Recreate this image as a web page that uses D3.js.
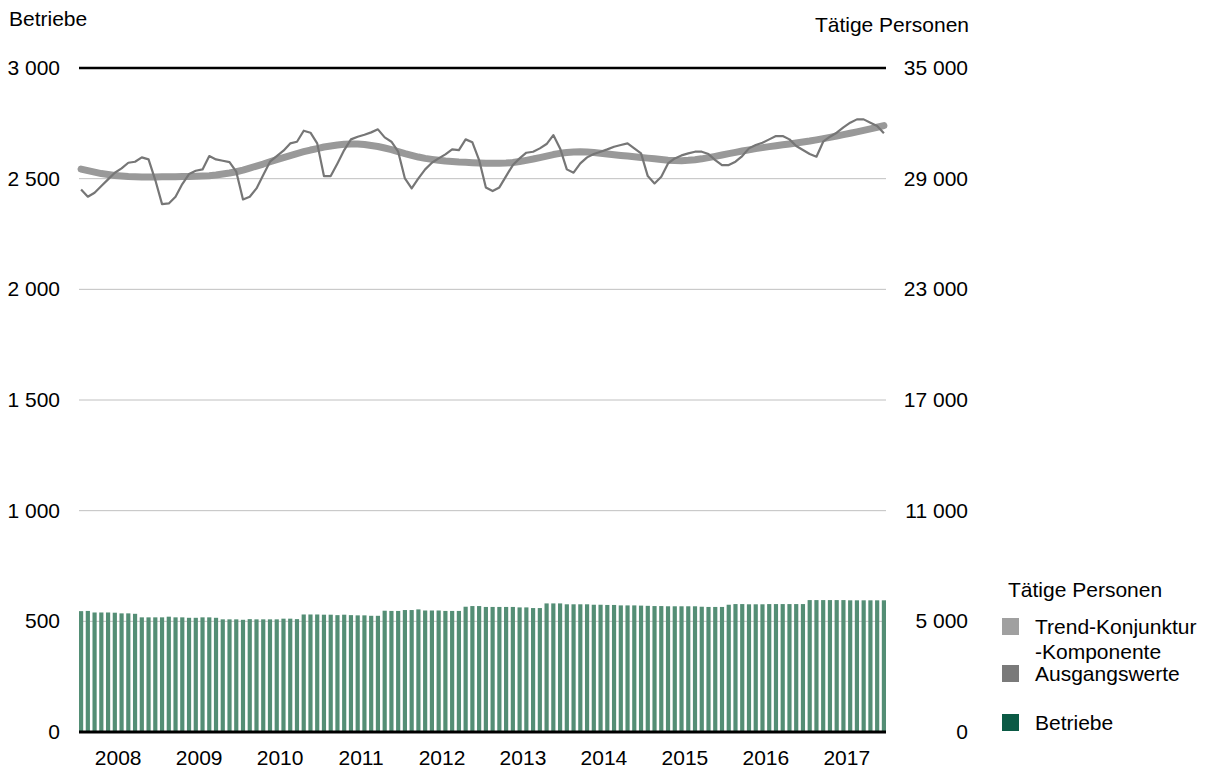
<!DOCTYPE html>
<html>
<head>
<meta charset="utf-8">
<script src="https://cdn.jsdelivr.net/npm/d3@7"></script>
<style>
  body { margin: 0; background: #fff; }
  text { font-family: "Liberation Sans", Arial, sans-serif; fill: #000; }
</style>
</head>
<body>
<script>
var jahre = ["2008", "2009", "2010", "2011", "2012", "2013", "2014", "2015", "2016", "2017"];

// Betriebe, monatlich Jan 2008 - Dez 2017
var betriebe = [
    546, 547, 540, 540, 540, 539, 536, 536, 534, 518, 518, 518,
    518, 521, 518, 518, 516, 516, 518, 518, 516, 509, 509, 509,
    507, 510, 509, 509, 509, 509, 512, 512, 510, 531, 531, 531,
    530, 530, 528, 530, 528, 527, 527, 525, 525, 548, 547, 547,
    551, 551, 554, 549, 549, 549, 547, 547, 547, 566, 569, 569,
    565, 565, 565, 565, 565, 563, 563, 560, 560, 581, 581, 581,
    577, 577, 577, 577, 575, 575, 574, 574, 572, 572, 572, 571,
    570, 569, 569, 568, 568, 568, 568, 568, 566, 565, 565, 565,
    575, 578, 578, 577, 577, 577, 578, 578, 578, 578, 578, 578,
    596, 596, 596, 596, 596, 596, 595, 595, 595, 595, 595, 595
];

// Tätige Personen - Ausgangswerte
var ausgangswerte = [
    28418, 28020, 28237, 28599, 28960, 29322, 29557, 29864, 29919, 30154, 30045, 28924,
    27622, 27658, 28020, 28707, 29250, 29430, 29503, 30226, 30045, 29973, 29901, 29376,
    27875, 28020, 28472, 29195, 29919, 30226, 30515, 30913, 31004, 31600, 31492, 30913,
    29141, 29141, 29828, 30552, 31130, 31275, 31383, 31510, 31673, 31239, 31004, 30461,
    29014, 28472, 29014, 29503, 29864, 30099, 30316, 30588, 30552, 31130, 30968, 30009,
    28526, 28327, 28526, 29141, 29738, 30099, 30407, 30461, 30642, 30877, 31365, 30642,
    29503, 29322, 29828, 30154, 30334, 30461, 30588, 30732, 30823, 30913, 30642, 30371,
    29141, 28743, 29105, 29828, 30099, 30262, 30371, 30461, 30461, 30334, 30009, 29738,
    29738, 29919, 30226, 30642, 30823, 30950, 31130, 31311, 31311, 31130, 30769, 30552,
    30334, 30190, 31004, 31275, 31492, 31781, 32034, 32215, 32215, 32034, 31854, 31456
];

// Tätige Personen - Trend-Konjunktur-Komponente
var trend = [
    29521, 29440, 29358, 29277, 29223, 29168, 29141, 29114, 29098, 29087, 29087, 29087,
    29098, 29103, 29109, 29114, 29119, 29125, 29141, 29163, 29196, 29250, 29304, 29375,
    29467, 29575, 29684, 29792, 29917, 30036, 30145, 30253, 30362, 30460, 30552, 30633,
    30715, 30769, 30823, 30861, 30877, 30877, 30850, 30796, 30742, 30661, 30579, 30471,
    30362, 30264, 30172, 30101, 30047, 29998, 29955, 29928, 29901, 29884, 29868, 29852,
    29841, 29830, 29836, 29847, 29874, 29928, 29993, 30064, 30145, 30226, 30308, 30373,
    30416, 30443, 30454, 30443, 30416, 30378, 30335, 30297, 30259, 30226, 30189, 30151,
    30113, 30075, 30036, 30004, 29982, 29977, 29993, 30026, 30075, 30140, 30210, 30281,
    30357, 30427, 30498, 30563, 30628, 30682, 30736, 30785, 30834, 30883, 30932, 30986,
    31040, 31105, 31170, 31241, 31311, 31387, 31463, 31539, 31620, 31702, 31789, 31875
];

var linksTicks = [0, 500, 1000, 1500, 2000, 2500, 3000];
var rechtsTicks = [-1000, 5000, 11000, 17000, 23000, 29000, 35000];
var rechtsLabels = ["0", "5 000", "11 000", "17 000", "23 000", "29 000", "35 000"];

var legende = [
    {name: ["Trend-Konjunktur", "-Komponente"], farbe: "#a0a0a0"},
    {name: ["Ausgangswerte"], farbe: "#7a7a7a"},
    {name: ["Betriebe"], farbe: "#0b5a45"}
];

var breite = 1208, hoehe = 769;
var links = 79, rechts = 886, oben = 68, unten = 732;
var schrift = 21;

var monate = [];
jahre.forEach(function (j) {
    for (var m = 1; m <= 12; m++) monate.push(j + "-" + m);
});

var svg = d3.select("body").append("svg")
    .attr("width", breite)
    .attr("height", hoehe);

var x = d3.scaleBand().domain(monate).range([links, rechts]).paddingInner(0.38).paddingOuter(0);
var y = d3.scaleLinear().domain([0, 3000]).range([unten, oben]);
var yR = d3.scaleLinear().domain([-1000, 35000]).range([unten, oben]);

var fmt = function (v) { return d3.format(",")(v).replace(/,/g, " "); };

// Gitterlinien
svg.append("g").selectAll("line")
    .data(linksTicks.filter(function (d) { return d > 0 && d < 3000; }))
    .enter().append("line")
    .attr("x1", links).attr("x2", rechts)
    .attr("y1", function (d) { return y(d); })
    .attr("y2", function (d) { return y(d); })
    .attr("stroke", "#c0c0c0")
    .attr("stroke-width", 1);

svg.append("line")
    .attr("x1", links).attr("x2", rechts)
    .attr("y1", y(3000)).attr("y2", y(3000))
    .attr("stroke", "#000").attr("stroke-width", 2.5);

// Balken Betriebe
svg.append("g").selectAll("rect")
    .data(betriebe)
    .enter().append("rect")
    .attr("x", function (d, i) { return x(monate[i]); })
    .attr("width", x.bandwidth())
    .attr("y", function (d) { return y(d); })
    .attr("height", function (d) { return y(0) - y(d); })
    .attr("fill", "#548e75");

svg.append("line")
    .attr("x1", links).attr("x2", rechts)
    .attr("y1", y(0)).attr("y2", y(0))
    .attr("stroke", "#000").attr("stroke-width", 3);

var linie = d3.line()
    .x(function (d, i) { return x(monate[i]) + x.bandwidth() / 2; })
    .y(function (d) { return yR(d); });

svg.append("path")
    .datum(trend)
    .attr("d", linie)
    .attr("fill", "none")
    .attr("stroke", "#999999")
    .attr("stroke-width", 7)
    .attr("stroke-linecap", "round")
    .attr("stroke-linejoin", "round");

svg.append("path")
    .datum(ausgangswerte)
    .attr("d", linie)
    .attr("fill", "none")
    .attr("stroke", "#767676")
    .attr("stroke-width", 2.2)
    .attr("stroke-linejoin", "round");

// Achsenbeschriftungen
svg.append("g").selectAll("text")
    .data(linksTicks)
    .enter().append("text")
    .attr("x", 60)
    .attr("y", function (d) { return y(d) + 7; })
    .attr("text-anchor", "end")
    .attr("font-size", schrift)
    .text(fmt);

svg.append("g").selectAll("text")
    .data(rechtsTicks)
    .enter().append("text")
    .attr("x", 968)
    .attr("y", function (d) { return yR(d) + 7; })
    .attr("text-anchor", "end")
    .attr("font-size", schrift)
    .text(function (d, i) { return rechtsLabels[i]; });

svg.append("g").selectAll("text")
    .data(jahre)
    .enter().append("text")
    .attr("x", function (d) {
        return (x(d + "-1") + x(d + "-12") + x.bandwidth()) / 2;
    })
    .attr("y", 765)
    .attr("text-anchor", "middle")
    .attr("font-size", schrift)
    .text(function (d) { return d; });

svg.append("text").attr("x", 9).attr("y", 26).attr("font-size", schrift).text("Betriebe");
svg.append("text").attr("x", 969).attr("y", 32).attr("text-anchor", "end")
    .attr("font-size", schrift).text("Tätige Personen");

// Legende
var leg = svg.append("g");
leg.append("text").attr("x", 1008).attr("y", 597).attr("font-size", schrift).text("Tätige Personen");
var legY = [618, 665, 714];
legende.forEach(function (l, i) {
    leg.append("rect")
        .attr("x", 1002).attr("y", legY[i])
        .attr("width", 17).attr("height", 17)
        .attr("fill", l.farbe);
    l.name.forEach(function (t, k) {
        leg.append("text")
            .attr("x", 1035)
            .attr("y", legY[i] + 16 + k * 25)
            .attr("font-size", schrift)
            .text(t);
    });
});
</script>
</body>
</html>
